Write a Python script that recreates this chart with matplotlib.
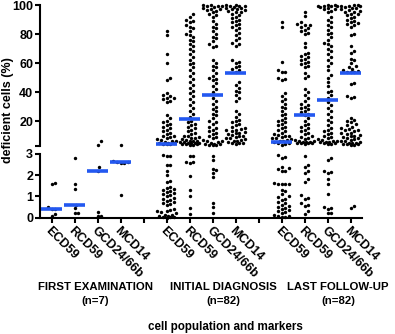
import numpy as np
import matplotlib
matplotlib.use("Agg")
import matplotlib.pyplot as plt

plt.rcParams["font.family"] = ["Liberation Sans", "DejaVu Sans"]
plt.rcParams["font.weight"] = "bold"

markers = ["ECD59", "RCD59", "GCD24/66b", "MCD14"]
groups = ["FIRST EXAMINATION", "INITIAL DIAGNOSIS", "LAST FOLLOW-UP"]
group_n = ["(n=7)", "(n=82)", "(n=82)"]

# first examination (n=7)
g1_ecd = [1.65, 1.6, 0.5, 0.4, 0.4, 0.17, 0.08]
g1_rcd = [2.79, 1.57, 1.37, 0.6, 0.44, 0.2, 0.2]
g1_gcd = [6.0, 3.7, 2.37, 2.2, 0.28, 0.1, 0.09]
g1_mcd = [3.8, 2.65, 2.62, 2.6, 2.58, 2.56, 1.09]

# initial diagnosis (n=82)
g2_ecd = [82, 79, 66, 60, 50, 48, 39, 38, 37, 36, 36, 35, 34, 33,
          24, 22, 20, 19, 18, 17, 16, 15, 14, 13, 12, 11, 10,
          9.5, 9, 8, 7.5, 7, 6.5, 6, 5.5, 5, 4.8, 4.6, 4.4, 4.2, 4.0,
          2.93, 2.92, 2.9, 2.5, 2.48, 2.2, 2.0, 1.75, 1.7,
          1.45, 1.4, 1.35, 1.3, 1.25, 1.2, 1.15, 1.1, 1.05, 1.0, 0.95, 0.9,
          0.85, 0.8, 0.75, 0.7, 0.65, 0.6,
          0.4, 0.35, 0.3, 0.3, 0.25, 0.2, 0.15, 0.12, 0.1, 0.08, 0.05, 0.03, 0.02, 0.0]
g2_rcd = [94, 92, 90, 89, 88, 86, 85, 84, 82, 80, 79, 78, 76, 75, 73, 72, 70, 68,
          66, 64, 62, 60, 59, 57, 55, 53, 51, 49, 47, 45, 43, 41, 39, 37, 35, 33,
          31, 29, 27, 25, 23,
          20, 19, 18, 17, 16, 15, 14, 13, 12, 11, 10, 9.5, 9, 8.5, 8, 7.5, 7, 6.5,
          6.2, 6, 5.8, 5.5, 5.2, 5, 4.8, 4.6, 4.4, 4.2, 4.0, 3.8, 3.6,
          2.92, 2.9, 2.62, 2.6, 2.58, 1.95, 1.3, 1.0, 0.45, 0.17]
g2_gcd = [100, 100, 99.5, 99, 99, 98.5, 98, 97.5, 97, 96.5, 96, 95, 94, 93, 92,
          89, 87, 85, 84, 82, 80, 78, 77, 75, 73, 72, 71,
          62, 60, 58, 57, 55, 53, 51, 50, 49, 48, 46, 44, 42, 40,
          36, 34, 32, 30, 28, 27, 25, 24, 22, 20, 19, 18, 16, 15, 14, 13, 12, 11, 10,
          9, 8, 7, 6.5, 6, 5.5, 5, 4.5, 4.2, 4.0, 3.8, 3.6, 3.5,
          2.9, 2.7, 2.3, 2.25, 2.1, 1.9, 0.7, 0.5, 0.23]
g2_mcd = [100, 100, 99.5, 99, 99, 98.5, 98, 98, 97.5, 97, 96.5, 96, 95.5, 95, 94,
          93, 92, 91, 90, 89, 88, 87, 86, 85, 84,
          83, 81, 79, 77, 76, 74, 73, 72, 62, 61, 60, 58, 57, 56, 55, 54,
          47, 45, 43, 41, 40, 38, 36, 34,
          27, 25, 23, 21, 20, 19, 18, 17, 16, 15, 14.5, 14, 13.5, 13, 12.5, 12,
          11.5, 11, 10.5, 10, 9.5, 9, 8.5, 8, 7.5, 7, 6.5, 6, 5.5, 5.2, 5.0, 4.8, 4.5]

# last follow-up (n=82)
g3_ecd = [88, 85, 61, 55, 54, 54, 50, 49, 48, 39, 37, 35, 34, 32, 30, 29, 27, 25,
          24, 22, 21, 20, 19, 18, 17, 16, 15, 14, 13, 12, 11, 10.5, 10, 9.5, 9,
          8.5, 8, 7.5, 7, 6.5, 6,
          5.3, 5.0, 4.6, 4.2, 3.8,
          2.93, 2.85, 2.8, 2.37, 2.35, 2.3, 2.2, 2.18, 1.62, 1.6, 1.6, 1.58, 1.57,
          1.3, 1.25, 1.1, 1.0, 0.98, 0.9, 0.85, 0.75, 0.7, 0.6, 0.55, 0.5, 0.45,
          0.4, 0.35, 0.3, 0.25, 0.2, 0.15, 0.1, 0.08, 0.05, 0.02]
g3_rcd = [95.2, 92.4, 88, 87, 86.5, 86, 85, 84, 83, 82, 81, 80, 74, 71,
          67, 66, 65, 64, 63, 62, 61, 60, 59, 58, 57, 53, 51, 50, 42, 40, 38, 36,
          34, 32, 31, 30, 29, 28, 27, 26, 25,
          24, 22, 20, 18, 17, 16, 15, 14, 13, 12, 11, 10, 9, 8, 7.5, 7, 6.5, 6,
          5.8, 5.6, 5.4, 5.2, 5.0, 4.8, 4.6, 4.2,
          2.9, 2.5, 2.4, 2.2, 2.1, 1.8, 1.7, 1.05, 0.95, 0.9, 0.68, 0.6, 0.55, 0.3, 0.17]
g3_gcd = [100, 100, 99.5, 99.5, 99, 99, 98.5, 98, 97.5, 97, 96, 95,
          92, 90, 88, 86, 85, 83, 81, 80, 78, 76, 74, 73, 72, 70, 68, 66, 64, 62,
          60, 58, 55, 52, 50, 47, 44, 41, 40, 38, 36,
          33, 31, 29, 27, 25, 23, 21, 19, 17, 15, 14, 13, 12, 11, 10, 9, 8,
          7.5, 7, 6.5, 6, 5.8, 5.6, 5.4, 5.2, 5.0, 4.5, 4.0,
          2.8, 2.7, 2.2, 2.15, 2.1, 1.8, 1.6, 1.1, 0.5, 0.45, 0.4, 0.2, 0.2]
g3_mcd = [100, 100, 99.5, 99, 99, 98.5, 98, 98, 97, 96.5, 96, 95.5, 95, 94, 93.5,
          93, 92, 91, 90, 89, 88, 87.5, 87, 86, 85, 80, 79, 72, 68, 67, 63, 62, 60,
          58, 57, 56, 55, 54.5, 54, 53.8, 53.5,
          46, 45.5, 37, 36.5, 36,
          22, 21, 20, 19, 18, 17, 16, 15, 14.5, 14, 13.5, 13, 12, 11.5, 11, 10.5,
          10, 9.5, 9, 8.5, 8, 7.5, 7, 6.5, 6, 5.5, 5, 4.8, 4.6, 4.4, 4.2, 4.0,
          3.8, 3.6, 0.55, 0.45]

g1_medians = [0.42, 0.6, 2.18, 2.62]
g2_medians = [4.0, 21.2, 38.0, 53.2]
g3_medians = [5.5, 24.4, 34.8, 53.2]

columns = [g1_ecd, g1_rcd, g1_gcd, g1_mcd,
           g2_ecd, g2_rcd, g2_gcd, g2_mcd,
           g3_ecd, g3_rcd, g3_gcd, g3_mcd]
medians = g1_medians + g2_medians + g3_medians
positions = [1, 2, 3, 4, 6, 7, 8, 9, 11, 12, 13, 14]

BREAK = 3
blue = "#2358f0"
W, H = 395, 334

fig = plt.figure(figsize=(W / 100, H / 100), dpi=100)
ax_top = fig.add_axes([40 / W, 1 - 145.7 / H, 322 / W, 140.7 / H])
ax_bot = fig.add_axes([40 / W, 1 - 217.7 / H, 322 / W, 63.7 / H])

for ax in (ax_top, ax_bot):
    ax.set_xlim(0.5, 14.5)
    ax.spines["top"].set_visible(False)
    ax.spines["right"].set_visible(False)
    ax.spines["left"].set_linewidth(1.5)
    ax.spines["bottom"].set_linewidth(1.5)
    ax.tick_params(direction="out", length=3.5, width=1.5, labelsize=9, pad=1.5)
    ax.set_facecolor("none")

ax_top.set_ylim(BREAK, 100)
ax_top.spines["bottom"].set_visible(False)
ax_top.set_xticks([])
ax_top.set_yticks([3, 20, 40, 60, 80, 100])
ax_top.set_yticklabels(["", "20", "40", "60", "80", "100"])

ax_bot.set_ylim(0, BREAK)
ax_bot.set_yticks([0, 1, 2, 3])
ax_bot.set_xticks(range(1, 15))
labels = []
for i in range(1, 15):
    labels.append("" if i in (5, 10) else markers[(i - 1) % 5])
ax_bot.set_xticklabels(labels, rotation=-45, ha="left", va="top",
                       rotation_mode="anchor", fontsize=9)


def pixel_y(v):
    ax = ax_top if v >= BREAK else ax_bot
    return ax.transData.transform((0, v))[1]


px_per_unit = ax_bot.get_window_extent().width / 14.0
d = 3.9
cands = [0.0]
for k in range(1, 12):
    cands += [k * d / 2, -k * d / 2]

for pos, vals, med in zip(positions, columns, medians):
    ys = np.array([pixel_y(v) for v in vals])
    order = np.argsort(ys)
    offs = np.zeros(len(vals))
    px, py = [], []
    for i in order:
        y = ys[i]
        best, best_gap = 0.0, -1
        for c in cands:
            if abs(c) > 11:
                continue
            gap = min([np.hypot(c - a, y - b) for a, b in zip(px, py)] + [99])
            if gap >= d:
                best = c
                break
            if gap > best_gap:
                best, best_gap = c, gap
        offs[i] = best
        px.append(best)
        py.append(y)
    xs = pos + offs / px_per_unit
    vals = np.array(vals)
    up = vals >= BREAK
    ax_top.scatter(xs[up], vals[up], s=6, color="black", linewidths=0,
                   zorder=2, clip_on=False)
    ax_bot.scatter(xs[~up], vals[~up], s=6, color="black", linewidths=0,
                   zorder=2, clip_on=False)
    ax = ax_top if med >= BREAK else ax_bot
    ax.plot([pos - 0.47, pos + 0.47], [med, med], color=blue, lw=2.6,
            solid_capstyle="butt", zorder=3)

fig.text(8 / W, 1 - 110 / H, "deficient cells (%)", rotation=90,
         ha="center", va="center", fontsize=9)

for cx, name, n in zip([95, 223, 338], groups, group_n):
    fig.text(cx / W, 1 - 287 / H, name, ha="center", va="center", fontsize=8.2)
    fig.text(cx / W, 1 - 301 / H, n, ha="center", va="center", fontsize=8.2)

fig.text(225 / W, 1 - 327 / H, "cell population and markers",
         ha="center", va="center", fontsize=8.4)

fig.savefig("out.png", dpi=100)
